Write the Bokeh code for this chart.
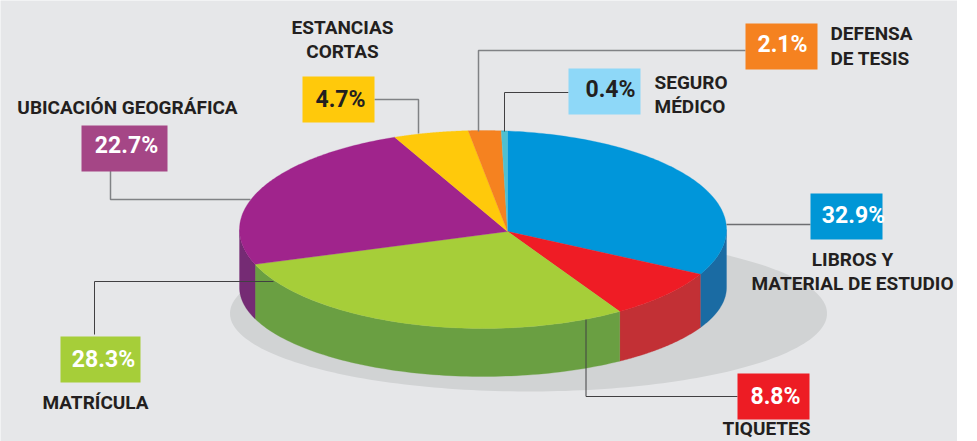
import numpy as np
from bokeh.plotting import figure
from bokeh.core.properties import value
from bokeh.embed import file_html
from bokeh.resources import INLINE

# --- data, clockwise from the top of the pie
categories = ["LIBROS Y MATERIAL DE ESTUDIO", "TIQUETES", "MATRÍCULA", "UBICACIÓN GEOGRÁFICA",
              "ESTANCIAS CORTAS", "DEFENSA DE TESIS", "SEGURO MÉDICO"]
values = [32.9, 8.8, 28.3, 22.7, 4.7, 2.1, 0.4]

# --- style
top_colors = ["#0096da", "#ef1c25", "#a6ce39", "#a0248c", "#ffc90b", "#f58220", "#4fc0d0"]
wall_colors = ["#1a6ba3", "#c23035", "#6a9f42", "#752b74", "#ffc90b", "#f58220", "#4fc0d0"]
box_colors = ["#0096d6", "#ed1c24", "#a6ce39", "#a54686", "#ffc90b", "#f58220", "#8ed8f8"]
pct_colors = ["white", "white", "white", "white", "#231f20", "white", "#231f20"]
BG, SHADOW, INK = "#e6e7e9", "#d1d3d4", "#231f20"
FONT = "Roboto"

W, H = 957, 441
CX, CY, RX, RY = 482.5, 229.0, 243.5, 99.0      # top face ellipse
BCY, BRY = 287.0, 89.0                          # lower rim ellipse
AX, AY = 507.0, 231.0                           # slice apex
SX, SY, SRX, SRY = 528.0, 313.0, 298.5, 78.0    # ground shadow

# box x0, x1, y0, y1 and percent label centre, same order as categories
box_x0 = [810, 737, 60, 81, 302, 745, 568]
box_x1 = [882, 809, 140, 167, 374, 817, 640]
box_y0 = [193, 373, 336, 125, 76, 23, 68]
box_y1 = [239, 419, 382, 171, 122, 69, 114]
pct_x = [853, 775, 103, 126, 340, 782, 610]
pct_y = [215, 396, 359, 145, 99, 44, 89]

# leader lines, same order
line_x = [[726, 810], [585.5, 585.5, 737], [94, 94, 273], [110, 110, 250], [374, 418, 418], [745, 478, 478], [568, 504, 504]]
line_y = [[224, 224], [319, 396, 396], [334, 281, 281], [165, 199, 199], [99, 99, 133], [50, 50, 131], [92, 92, 131]]
line_cols = ["#6d6e71", "#414042", "#414042", "#808285", "#808285", "#808285", "#414042"]
line_wid = [1.5, 1, 1, 1.5, 1.5, 1.5, 1]

# name labels: text, x, y, align
name_text = ["UBICACIÓN GEOGRÁFICA", "ESTANCIAS", "CORTAS", "DEFENSA", "DE TESIS", "SEGURO", "MÉDICO",
             "LIBROS Y", "MATERIAL DE ESTUDIO", "MATRÍCULA", "TIQUETES"]
name_x = [127, 342, 342, 830, 830, 654, 654, 852, 852, 95, 766]
name_y = [107, 27, 51, 33, 58, 82, 106, 259, 283, 402, 428]
name_align = ["center", "center", "center", "left", "left", "left", "left", "center", "center", "center", "center"]


def phi_of(theta):
    """Ellipse parameter where the ray at pie angle theta leaves the top face."""
    dx, dy = np.sin(theta) * RX / RY, -np.cos(theta)
    ex, ey = (AX - CX) / RX, (AY - CY) / RY
    fx, fy = dx / RX, dy / RY
    a, b, c = fx * fx + fy * fy, 2 * (ex * fx + ey * fy), ex * ex + ey * ey - 1
    k = (-b + np.sqrt(b * b - 4 * a * c)) / (2 * a)
    return np.arctan2((AY + k * dy - CY) / RY, (AX + k * dx - CX) / RX)


edges = np.cumsum([0.0] + values) / sum(values) * 2 * np.pi
phis = np.unwrap([phi_of(t) for t in edges])

p = figure(width=W, height=H, x_range=(0, W), y_range=(H, 0), x_axis_type=None, y_axis_type=None,
           toolbar_location=None, output_backend="svg", min_border=0, outline_line_color=None,
           background_fill_color=BG, border_fill_color=BG)
p.grid.visible = False

t = np.linspace(0, 2 * np.pi, 240)
p.patch(SX + SRX * np.cos(t), SY + SRY * np.sin(t), fill_color=SHADOW, line_color=None)

# side walls (the visible front half only)
for i in range(len(values)):
    for shift in (-2 * np.pi, 0, 2 * np.pi):
        lo, hi = max(phis[i] + shift, 0), min(phis[i + 1] + shift, np.pi)
        if hi > lo:
            f = np.linspace(lo, hi, 80)
            xs = CX + RX * np.cos(f)
            p.patch(np.r_[xs, xs[::-1]],
                    np.r_[CY + RY * np.sin(f), (BCY + BRY * np.sin(f))[::-1]],
                    fill_color=wall_colors[i], line_color=wall_colors[i], line_width=0.3)

# top face
for i in range(len(values)):
    f = np.linspace(phis[i], phis[i + 1], 120)
    p.patch(np.r_[AX, CX + RX * np.cos(f)], np.r_[AY, CY + RY * np.sin(f)],
            fill_color=top_colors[i], line_color=top_colors[i], line_width=0.3)

# leader lines
for xs, ys, c, w in zip(line_x, line_y, line_cols, line_wid):
    p.line(xs, ys, line_color=c, line_width=w)

# boxes
p.quad(left=box_x0, right=box_x1, top=box_y0, bottom=box_y1, fill_color=box_colors, line_color=None)

# percent labels (drawn from the values)
p.text(pct_x, pct_y, text=[f"{v}%" for v in values], text_color=pct_colors, text_align="center",
       text_baseline="middle", text_font=value(FONT), text_font_style="bold", text_font_size="23px")

# names
p.text(name_x, name_y, text=name_text, text_color=INK, text_align=name_align, text_baseline="middle",
       text_font=value(FONT), text_font_style="bold", text_font_size="19px")

open("out.html", "w").write(file_html(p, INLINE))
